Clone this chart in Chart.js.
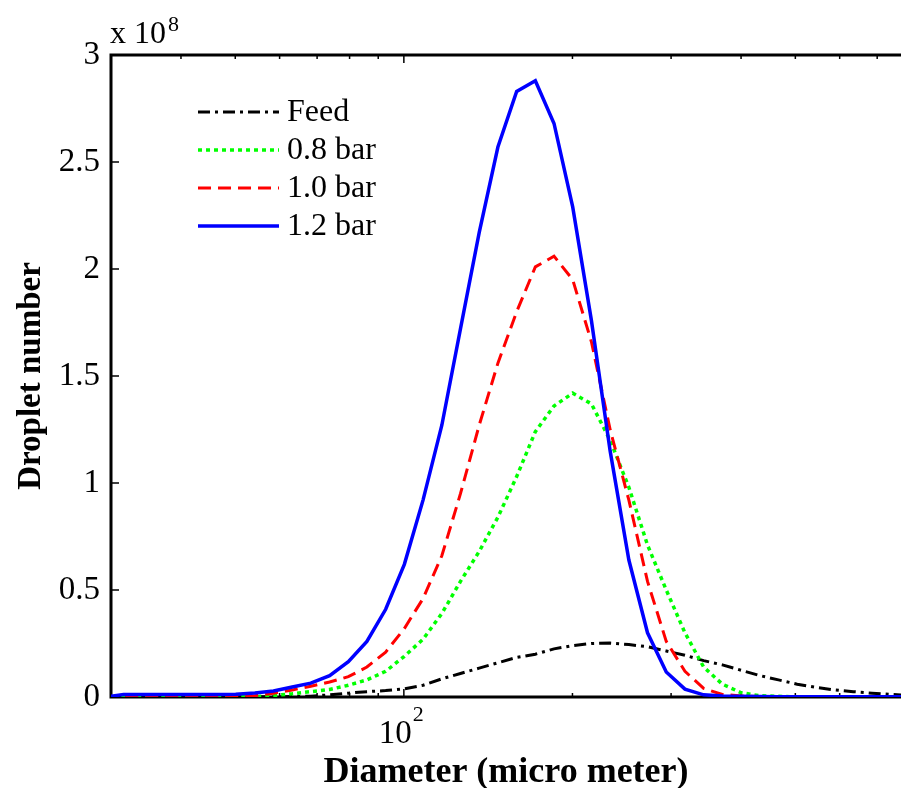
<!DOCTYPE html>
<html>
<head>
<meta charset="utf-8">
<script src="https://cdn.jsdelivr.net/npm/chart.js@4.4.1/dist/chart.umd.min.js"></script>
<style>
  html, body { margin: 0; padding: 0; background: #fff; }
  canvas { display: block; }
</style>
</head>
<body>
<canvas id="c" width="901" height="788"></canvas>
<script>
// ---- data (droplet diameter in micro meter, droplet number in units of 1e8) ----
const diameters = [29.3,31.6,34.1,36.9,39.8,43.0,46.5,50.1,54.2,58.5,63.2,68.2,73.7,79.6,85.9,92.8,100.2,108.2,116.9,126.2,136.3,147.2,159.0,171.7,185.4,200.2,216.2,233.5,252.2,272.3,294.1,317.6,343.0,370.4,400.0,431.9,466.5,503.8,544.0,587.5,634.5,685.2,739.9,799.1];

const feed = [0.001,0.001,0.001,0.001,0.001,0.001,0.001,0.001,0.001,0.001,0.002,0.004,0.010,0.018,0.025,0.030,0.038,0.055,0.085,0.110,0.135,0.160,0.185,0.200,0.225,0.240,0.250,0.252,0.245,0.235,0.215,0.195,0.170,0.150,0.125,0.100,0.080,0.060,0.045,0.033,0.025,0.018,0.012,0.008];

const bar08 = [0.001,0.001,0.001,0.001,0.001,0.001,0.001,0.001,0.001,0.007,0.015,0.025,0.035,0.055,0.080,0.120,0.190,0.270,0.390,0.540,0.680,0.840,1.030,1.240,1.360,1.420,1.370,1.200,0.980,0.710,0.500,0.300,0.140,0.060,0.020,0.006,0.003,0.001,0.001,0.001,0.001,0.001,0.001,0.001];

const bar10 = [0.002,0.002,0.002,0.002,0.002,0.002,0.002,0.003,0.006,0.018,0.033,0.050,0.070,0.095,0.140,0.210,0.320,0.460,0.660,0.950,1.270,1.560,1.800,2.010,2.060,1.950,1.660,1.250,0.920,0.540,0.260,0.120,0.040,0.012,0.005,0.002,0.002,0.002,0.002,0.002,0.002,0.002,0.002,0.002];

const bar12 = [0.000,0.012,0.012,0.012,0.012,0.012,0.012,0.013,0.019,0.028,0.047,0.065,0.100,0.165,0.260,0.410,0.620,0.920,1.270,1.720,2.170,2.570,2.830,2.880,2.680,2.290,1.760,1.150,0.640,0.300,0.117,0.037,0.010,0.005,0.003,0.002,0.001,0.001,0.001,0.001,0.001,0.001,0.001,0.001];

const seriesNames = ['Feed','0.8 bar','1.0 bar','1.2 bar'];
const yTicks = [0,0.5,1,1.5,2,2.5,3];
const xMajorTicks = [100];
const xMinorTicks = [40,50,60,70,80,90,200,300,400,500,600,700];
const yScaleFactor = 1e8;

// ---- styles ----
const FONT = "'Liberation Serif', 'Times New Roman', serif";
const styles = [
  { color: '#000000', dash: [12,5,3,5], width: 3 },
  { color: '#00ff00', dash: [4,4],      width: 3.5 },
  { color: '#ff0000', dash: [13,7],     width: 3 },
  { color: '#0000ff', dash: [],         width: 3.5 }
];
const seriesValues = [feed, bar08, bar10, bar12];

const datasets = seriesValues.map((vals, i) => ({
  label: seriesNames[i],
  data: diameters.map((d, j) => ({ x: d, y: vals[j] * yScaleFactor })),
  borderColor: styles[i].color,
  borderDash: styles[i].dash,
  borderWidth: styles[i].width,
  borderCapStyle: 'butt',
  pointRadius: 0,
  tension: 0,
  fill: false,
  order: 3 - i
}));

const framePlugin = {
  id: 'frame',
  beforeDatasetsDraw(chart) {
    const { ctx, chartArea: a, scales } = chart;
    const xs = scales.x, ys = scales.y;
    ctx.save();
    ctx.strokeStyle = '#000';
    ctx.lineWidth = 3;
    ctx.beginPath();
    ctx.moveTo(a.left, a.top); ctx.lineTo(a.right + 2, a.top);
    ctx.moveTo(a.left, a.top - 1.5); ctx.lineTo(a.left, a.bottom + 1.5);
    ctx.moveTo(a.left, a.bottom); ctx.lineTo(a.right + 2, a.bottom);
    ctx.stroke();
    ctx.lineWidth = 1.5;
    ctx.beginPath();
    yTicks.forEach(v => {
      const y = ys.getPixelForValue(v * yScaleFactor);
      ctx.moveTo(a.left, y); ctx.lineTo(a.left + 8, y);
    });
    xMinorTicks.forEach(v => {
      const x = xs.getPixelForValue(v);
      ctx.moveTo(x, a.top); ctx.lineTo(x, a.top + 4);
      ctx.moveTo(x, a.bottom); ctx.lineTo(x, a.bottom - 4);
    });
    xMajorTicks.forEach(v => {
      const x = xs.getPixelForValue(v);
      ctx.moveTo(x, a.top); ctx.lineTo(x, a.top + 8);
      ctx.moveTo(x, a.bottom); ctx.lineTo(x, a.bottom - 8);
    });
    ctx.stroke();
    ctx.restore();
  },
  afterDraw(chart) {
    const { ctx, chartArea: a, scales } = chart;
    const xs = scales.x;
    ctx.save();
    ctx.fillStyle = '#000';
    // exponent label above y axis
    ctx.font = `32px ${FONT}`;
    ctx.textAlign = 'left';
    ctx.textBaseline = 'alphabetic';
    ctx.fillText('x 10', a.left - 1, 43);
    const w1 = ctx.measureText('x 10').width;
    ctx.font = `22px ${FONT}`;
    ctx.fillText('8', a.left - 1 + w1 + 2, 31);
    // x tick label 10^2
    xMajorTicks.forEach(v => {
      const x = xs.getPixelForValue(v);
      ctx.font = `33px ${FONT}`;
      const wb = ctx.measureText('10').width;
      ctx.font = `22px ${FONT}`;
      const we = ctx.measureText('2').width;
      const left = x - (wb + we) / 2 - 3;
      ctx.font = `33px ${FONT}`;
      ctx.fillText('10', left, 743);
      ctx.font = `22px ${FONT}`;
      ctx.fillText(String(Math.round(Math.log10(v))), left + wb + 1, 721);
    });
    // axis titles
    ctx.font = `bold 36px ${FONT}`;
    ctx.textAlign = 'center';
    ctx.fillText('Diameter (micro meter)', (a.left + a.right) / 2, 782);
    ctx.font = `bold 33px ${FONT}`;
    ctx.save();
    ctx.translate(40, (a.top + a.bottom) / 2);
    ctx.rotate(-Math.PI / 2);
    ctx.fillText('Droplet number', 0, 0);
    ctx.restore();
    // legend
    const lx0 = 198, lx1 = 279, tx = 287;
    const ly = [112, 150, 188, 226];
    chart.data.datasets.forEach((ds, i) => {
      ctx.save();
      ctx.strokeStyle = ds.borderColor;
      ctx.lineWidth = ds.borderWidth;
      ctx.setLineDash(ds.borderDash);
      ctx.beginPath();
      ctx.moveTo(lx0, ly[i]); ctx.lineTo(lx1, ly[i]);
      ctx.stroke();
      ctx.restore();
      ctx.font = `32px ${FONT}`;
      ctx.textAlign = 'left';
      ctx.textBaseline = 'middle';
      ctx.fillText(ds.label, tx, ly[i] + 1);
      ctx.textBaseline = 'alphabetic';
    });
    ctx.restore();
  }
};

new Chart(document.getElementById('c'), {
  type: 'line',
  data: { datasets },
  options: {
    responsive: false,
    animation: false,
    devicePixelRatio: 1,
    layout: { padding: { top: 55, right: 0, left: 0, bottom: 0 } },
    plugins: { legend: { display: false }, tooltip: { enabled: false } },
    scales: {
      x: {
        type: 'logarithmic',
        min: 30,
        max: 772,
        grid: { display: false, drawTicks: false },
        border: { display: false },
        ticks: { display: false },
        afterFit(s) { s.height = 91; s.paddingLeft = 0; s.paddingRight = 0; }
      },
      y: {
        min: 0,
        max: 3 * yScaleFactor,
        grid: { display: false, drawTicks: false },
        border: { display: false },
        afterBuildTicks(s) { s.ticks = yTicks.map(v => ({ value: v * yScaleFactor })); },
        ticks: {
          color: '#000',
          padding: 11,
          font: { family: FONT, size: 33 },
          callback: v => String(+(v / yScaleFactor).toFixed(1))
        },
        afterFit(s) { s.width = 111; s.paddingTop = 0; s.paddingBottom = 0; }
      }
    }
  },
  plugins: [framePlugin]
});
</script>
</body>
</html>
